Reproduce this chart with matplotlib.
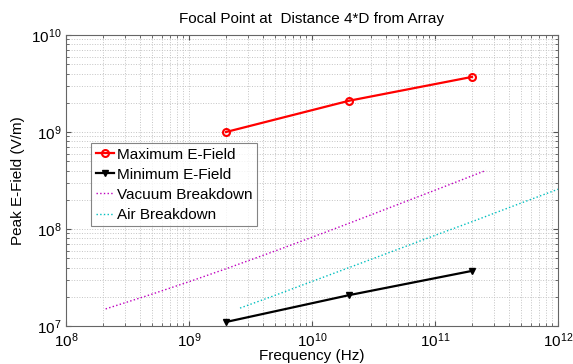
import matplotlib
matplotlib.use('Agg')
from matplotlib import pyplot as plt
from matplotlib.ticker import LogLocator, NullFormatter

plt.rcParams['font.family'] = ['Liberation Sans', 'DejaVu Sans']

# simulated field at the focal point
freq = [2e9, 2e10, 2e11]
e_max = [1.0e9, 2.1e9, 3.7e9]
e_min = [1.1e7, 2.08e7, 3.7e7]

# breakdown limits
vac_freq = [2.1e8, 5e8, 1e9, 2e9, 5e9, 1e10, 2e10, 5e10, 1e11, 2.6e11]
vac_e = [1.5e7, 2.13e7, 2.86e7, 3.89e7, 5.93e7, 8.22e7, 1.145e8, 1.79e8, 2.51e8, 4.02e8]
air_freq = [2.6e9, 5e9, 1e10, 2e10, 5e10, 1e11, 2e11, 5e11, 1e12]
air_e = [1.53e7, 2.07e7, 2.88e7, 4.0e7, 6.18e7, 8.6e7, 1.19e8, 1.85e8, 2.57e8]

fig = plt.figure(figsize=(5.73, 3.64), dpi=100)
ax = fig.add_axes([0.1152, 0.1044, 0.8586, 0.7994])

ax.loglog(freq, e_max, 'r-o', lw=1.6, ms=5, mfc='none', mew=1.5, label='Maximum E-Field')
ax.loglog(freq, e_min, 'k-v', lw=1.6, ms=5, mfc='k', label='Minimum E-Field')
ax.loglog(vac_freq, vac_e, ':', color='m', lw=1, label='Vacuum Breakdown')
ax.loglog(air_freq, air_e, ':', color='c', lw=1, label='Air Breakdown')

ax.set_xlim(1e8, 1e12)
ax.set_ylim(1e7, 1e10)
ax.xaxis.set_major_locator(LogLocator(base=10, numticks=10))
ax.xaxis.set_minor_locator(LogLocator(base=10, subs=range(2, 10), numticks=20))
ax.yaxis.set_major_locator(LogLocator(base=10, numticks=10))
ax.yaxis.set_minor_locator(LogLocator(base=10, subs=range(2, 10), numticks=20))
ax.xaxis.set_minor_formatter(NullFormatter())
ax.yaxis.set_minor_formatter(NullFormatter())

ax.grid(True, which='both', ls=':', color='#c4c4c4', lw=0.7)
ax.tick_params(which='both', direction='in', top=True, right=True, labelsize=11,
               color='#555555', labelcolor='black')
ax.tick_params(axis='x', pad=4)
for s in ax.spines.values():
    s.set_color('#666666')
    s.set_linewidth(0.8)

ax.set_title('Focal Point at  Distance 4*D from Array', fontsize=11, pad=9)
ax.set_xlabel('Frequency (Hz)', fontsize=11, labelpad=-1)
ax.set_ylabel('Peak E-Field (V/m)', fontsize=11)

leg = ax.legend(loc='upper left', bbox_to_anchor=(0.051, 0.629), fontsize=11,
                frameon=True, fancybox=False, handlelength=1.2, handletextpad=0.2,
                borderpad=0.3, labelspacing=0.4, borderaxespad=0)
leg.get_frame().set_edgecolor('#666666')
leg.get_frame().set_linewidth(0.8)

fig.savefig('out.png', dpi=100)
